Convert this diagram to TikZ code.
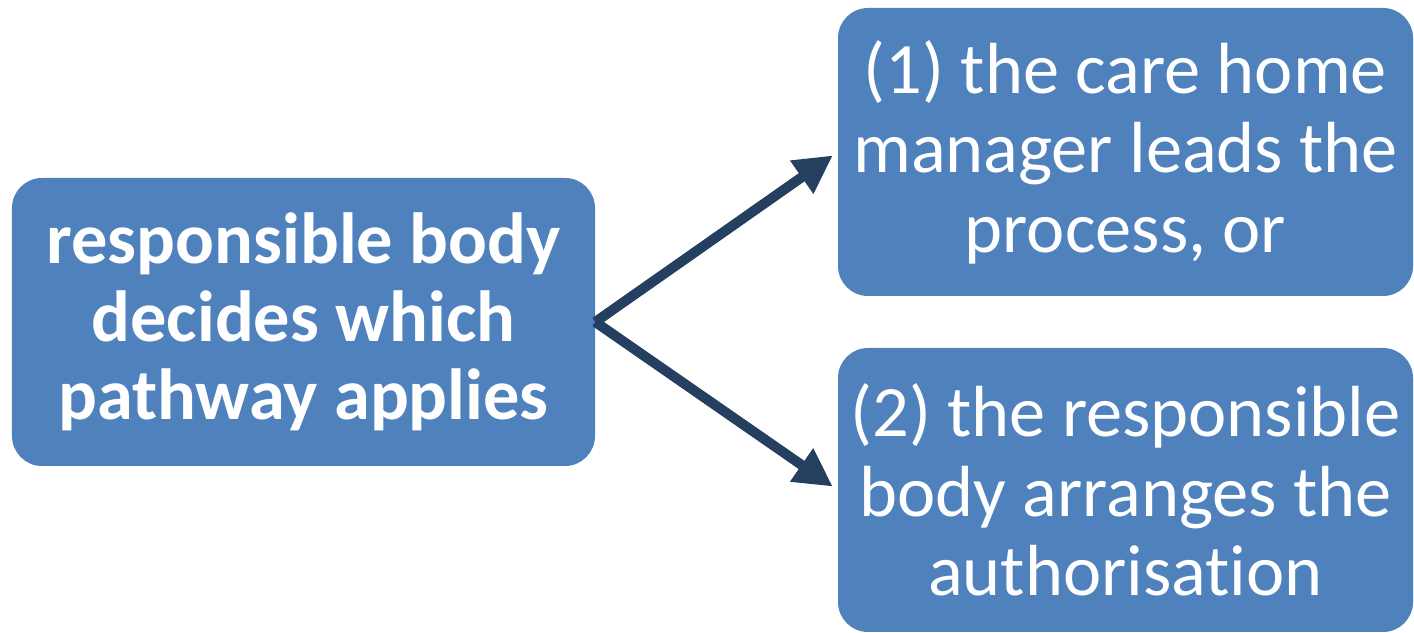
\documentclass[tikz,border=0pt]{standalone}
\usepackage{fontspec}
\setmainfont{Carlito}[Ligatures=NoCommon]
\usetikzlibrary{positioning,arrows.meta}
\definecolor{boxblue}{HTML}{4F81BD}
\definecolor{arrowblue}{HTML}{243F60}

\begin{document}
\begin{tikzpicture}[
  font=\fontsize{51.5}{56.5}\selectfont,
  pbox/.style={fill=boxblue, text=white, rounded corners=0.75cm, align=center, inner sep=0pt},
  arr/.style={-{Triangle[length=0.95cm,width=0.95cm]}, line width=0.25cm, draw=arrowblue, shorten >=0.15cm}
]
  \useasboundingbox (0,0) rectangle (35.35,15.825);

  \node[pbox, minimum width=14.575cm, minimum height=7.2cm, font=\fontsize{51.5}{55.5}\selectfont\bfseries] (decide) at (7.5875,7.775)
    {responsible body\\ decides which\\ pathway applies};
  \node[pbox, minimum width=14.375cm, minimum height=7.2cm] (manager) at (28.1375,12.025)
    {(1) the care home\\ manager leads the\\ process, or};
  \node[pbox, minimum width=14.375cm, minimum height=7.1cm] (body) at (28.1375,3.575)
    {(2) the responsible\\ body arranges the\\ authorisation};

  \draw[arr] (decide.east) -- (manager.west);
  \draw[arr] (decide.east) -- (body.west);
\end{tikzpicture}
\end{document}
